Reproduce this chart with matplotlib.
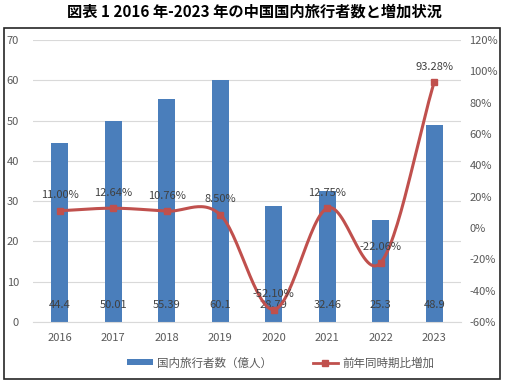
import numpy as np
import matplotlib
matplotlib.use("Agg")
import matplotlib.pyplot as plt
from matplotlib.patches import Rectangle
from matplotlib.lines import Line2D
from matplotlib.patches import Patch

plt.rcParams['font.family'] = ['Noto Sans CJK JP', 'DejaVu Sans']

years = ['2016', '2017', '2018', '2019', '2020', '2021', '2022', '2023']
travelers = [44.4, 50.01, 55.39, 60.1, 28.79, 32.46, 25.3, 48.9]
growth = [11.00, 12.64, 10.76, 8.50, -52.10, 12.75, -22.06, 93.28]

bar_color = '#4A7EBB'
line_color = '#C0504D'
text_color = '#595959'


def catmull_rom(x, y, n=30):
    # smooth curve through the points, like Excel's "smoothed line"
    px = np.concatenate([[2 * x[0] - x[1]], x, [2 * x[-1] - x[-2]]])
    py = np.concatenate([[2 * y[0] - y[1]], y, [2 * y[-1] - y[-2]]])
    xs, ys = [], []
    t = np.linspace(0, 1, n)
    for i in range(1, len(px) - 2):
        for p, out in ((px, xs), (py, ys)):
            p0, p1, p2, p3 = p[i - 1], p[i], p[i + 1], p[i + 2]
            out.extend(0.5 * ((2 * p1) + (-p0 + p2) * t
                              + (2 * p0 - 5 * p1 + 4 * p2 - p3) * t ** 2
                              + (-p0 + 3 * p1 - 3 * p2 + p3) * t ** 3))
    return np.array(xs), np.array(ys)


fig = plt.figure(figsize=(5.08, 3.83), dpi=100)
W, H = 508, 383
ax = fig.add_axes([33 / W, 1 - 322 / H, (461 - 33) / W, (322 - 40) / H])
ax2 = ax.twinx()

x = np.arange(len(years))
ax.bar(x, travelers, width=0.32, color=bar_color, zorder=2)
ax.set_xlim(-0.5, len(years) - 0.5)
ax.set_ylim(0, 70)
ax.set_yticks(range(0, 71, 10))
ax.set_xticks(x)
ax.set_xticklabels(years)
ax.grid(axis='y', color='#D9D9D9', linewidth=0.8, zorder=0)
ax.set_axisbelow(True)

for a in (ax, ax2):
    for s in a.spines.values():
        s.set_visible(False)
    a.tick_params(length=0, labelsize=8, labelcolor=text_color)
ax.tick_params(axis='x', pad=8)
ax.tick_params(axis='y', pad=10)
ax2.tick_params(axis='y', pad=6)
ax.spines['bottom'].set_visible(True)
ax.spines['bottom'].set_color('#D9D9D9')

for xi, v in zip(x, travelers):
    ax.annotate(f'{v:g}', (xi, 0), xytext=(0, 12), textcoords='offset points',
                ha='center', va='center', fontsize=8, color='#404040', zorder=4)

sx, sy = catmull_rom(x.astype(float), np.array(growth))
ax2.plot(sx, sy, color=line_color, linewidth=2.2, zorder=3)
ax2.plot(x, growth, 's', color=line_color, markersize=5, zorder=3)
ax2.set_ylim(-60, 120)
ax2.set_yticks(range(-60, 121, 20))
ax2.set_yticklabels([f'{v}%' for v in range(-60, 121, 20)])
for xi, v in zip(x, growth):
    ax2.annotate(f'{v:.2f}%', (xi, v), xytext=(0, 11), textcoords='offset points',
                 ha='center', va='center', fontsize=8, color='#404040', zorder=4)

fig.text(0.5, 1 - 12 / H, '図表 1 2016 年-2023 年の中国国内旅行者数と増加状況',
         ha='center', va='center', fontsize=11, fontweight='bold', color='black')

fig.patches.append(Rectangle((4 / W, 1 - 379 / H), 496 / W, 351 / H,
                             transform=fig.transFigure, fill=False,
                             edgecolor='#262626', linewidth=1.2))

handles = [Patch(facecolor=bar_color, label='国内旅行者数（億人）'),
           Line2D([0], [0], color=line_color, marker='s', markersize=4,
                  linewidth=2, label='前年同時期比増加')]
fig.legend(handles=handles, loc='center', bbox_to_anchor=(0.553, 1 - 363 / H),
           ncol=2, frameon=False, fontsize=8.3, handlelength=2.2,
           handleheight=0.45, columnspacing=3.5, handletextpad=0.4,
           labelcolor=text_color)

fig.savefig('out.png', dpi=100)
